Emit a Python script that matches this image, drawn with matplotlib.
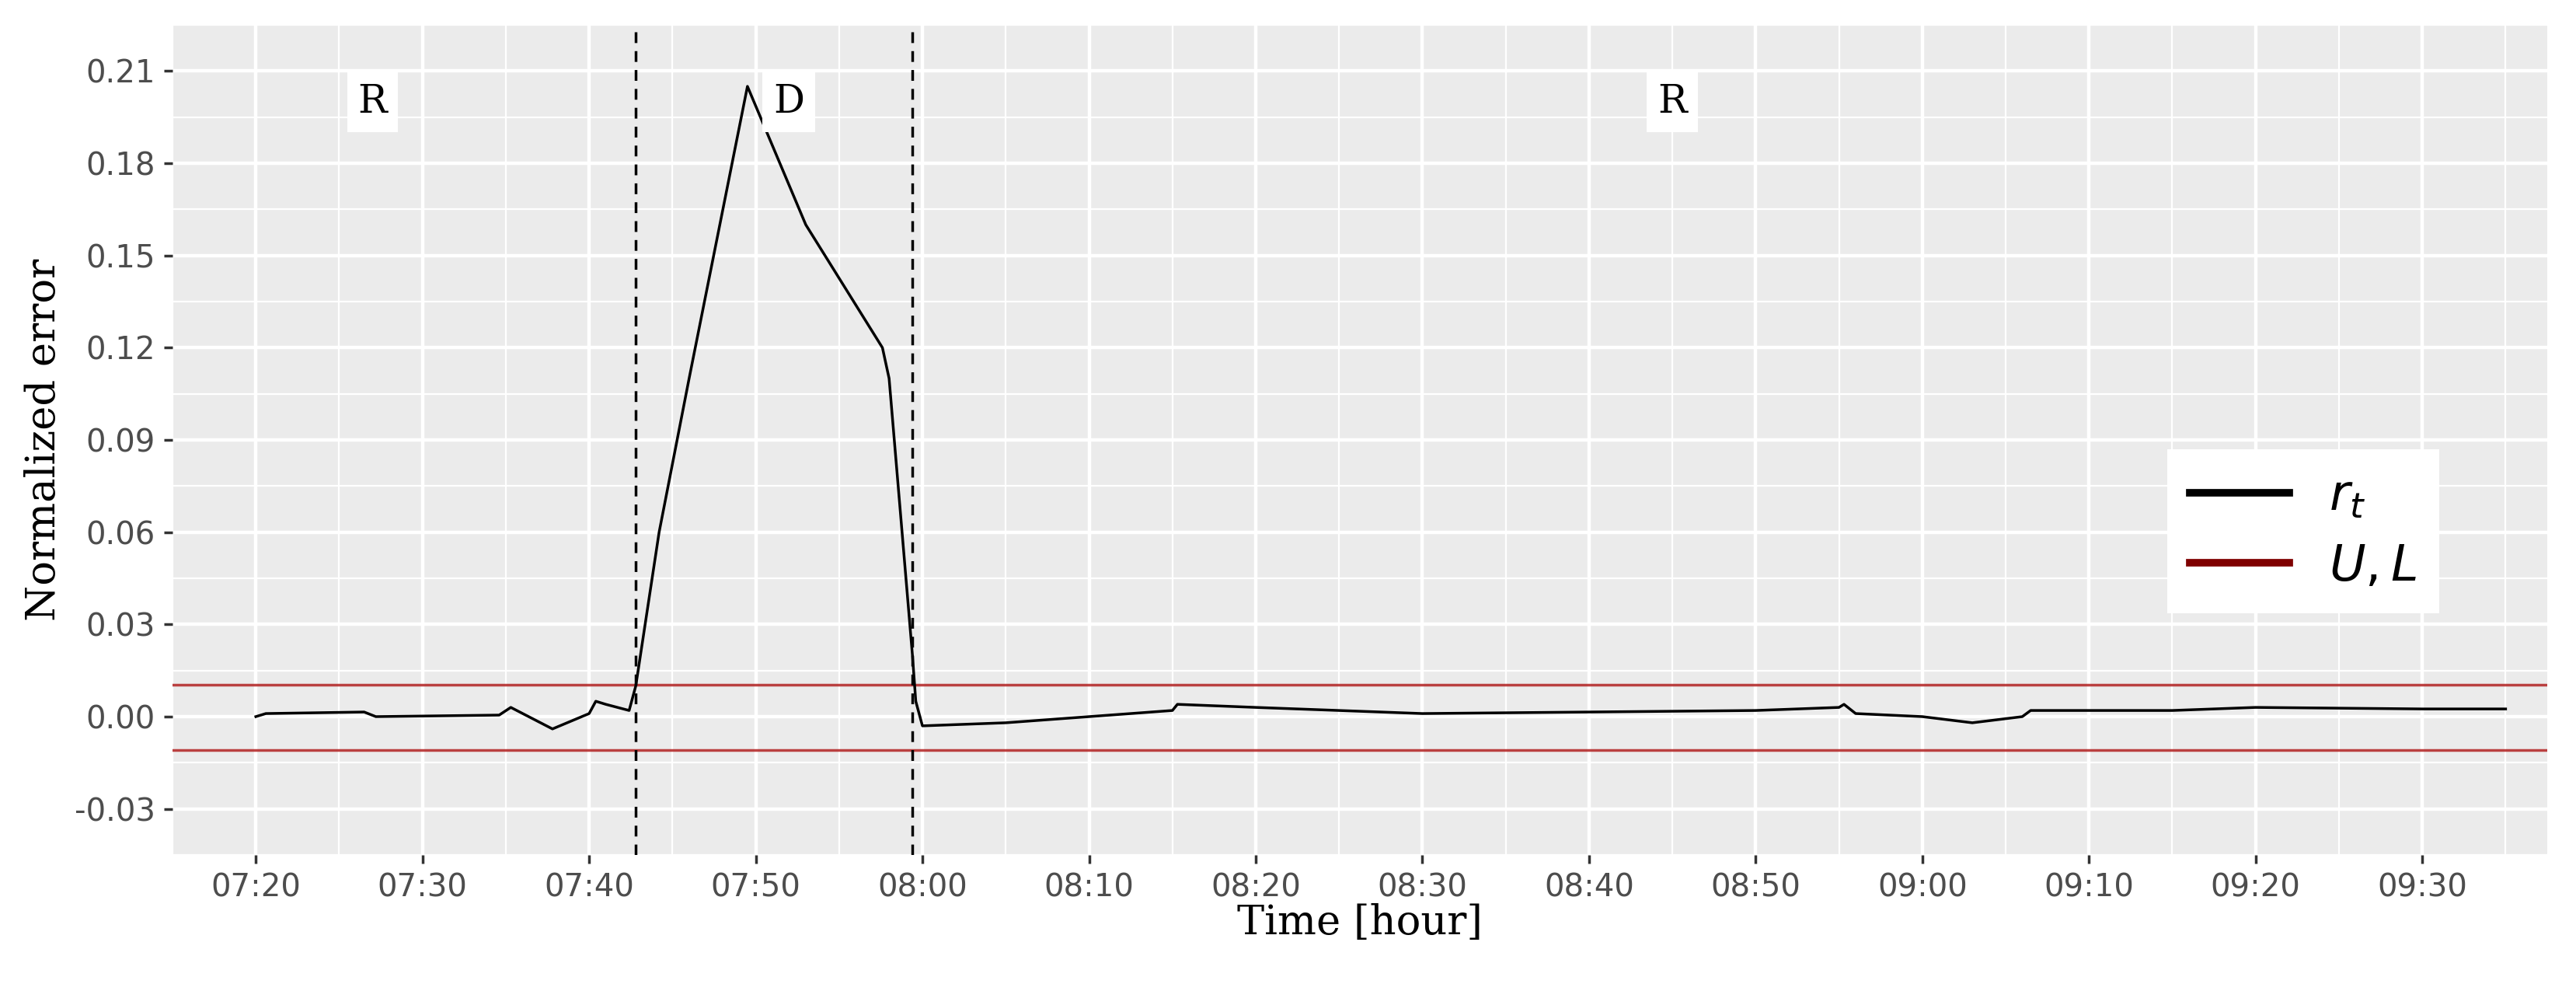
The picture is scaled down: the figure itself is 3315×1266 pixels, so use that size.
import matplotlib
matplotlib.use("Agg")
import matplotlib.pyplot as plt
import numpy as np

# minutes after 07:20
t_min = [0, 0.6, 6.5, 7.2, 14.6, 15.3, 17.8, 20.0, 20.4, 21.0, 22.4, 22.8, 24.2, 26.0, 29.5,
         33.0, 37.6, 38.0, 39.4, 39.6, 40.0, 45.0, 50.0, 55.0, 55.3, 60.0, 65.0, 70.0,
         80.0, 90.0, 95.0, 95.3, 96.0, 100.0, 103.0, 106.0, 106.5, 115.0, 120.0, 130.0, 135.0]
r_vals = [0.000, 0.001, 0.0015, 0.000, 0.0005, 0.003, -0.004, 0.001, 0.005, 0.004, 0.002, 0.010, 0.060, 0.110, 0.205,
          0.160, 0.120, 0.110, 0.020, 0.005, -0.003, -0.002, 0.000, 0.002, 0.004, 0.003, 0.002, 0.001,
          0.0015, 0.002, 0.003, 0.004, 0.001, 0.000, -0.002, 0.000, 0.002, 0.002, 0.003, 0.0025, 0.0025]
upper_limit = 0.0103
lower_limit = -0.0108
phase_lines = [22.8, 39.4]
phase_labels = ["R", "D", "R"]
phase_label_x = [7.0, 32.0, 85.0]
xtick_min = list(range(0, 131, 10))
xtick_labels = ["07:20", "07:30", "07:40", "07:50", "08:00", "08:10", "08:20", "08:30",
                "08:40", "08:50", "09:00", "09:10", "09:20", "09:30"]
yticks = [-0.03, 0.00, 0.03, 0.06, 0.09, 0.12, 0.15, 0.18, 0.21]

fig = plt.figure(figsize=(33.16, 12.66), dpi=100)
ax = fig.add_axes([222/3316, 1 - 1100/1266, (3278-222)/3316, (1100-32)/1266])
ax.set_facecolor("#EBEBEB")
for s in ax.spines.values():
    s.set_visible(False)

ax.set_xlim(-3.4, 137.5)
ax.set_ylim(-0.0417, 0.2242)
ax.set_xticks(xtick_min)
ax.set_xticklabels(xtick_labels)
ax.set_xticks([x + 5 for x in xtick_min[:-1]] + [-5, 135], minor=True)
ax.set_yticks(yticks)
ax.set_yticklabels([f"{v:.2f}" for v in yticks])
ax.set_yticks([v + 0.015 for v in yticks] + [-0.045], minor=True)
ax.grid(which="major", color="white", lw=3.2)
ax.grid(which="minor", color="white", lw=1.6)
ax.set_axisbelow(True)
ax.tick_params(which="major", length=8, width=2.5, color="#333333", labelsize=29,
               labelcolor="#4D4D4D", pad=8)
ax.tick_params(which="minor", length=0)

ax.axhline(upper_limit, color="#B22222", lw=2.5, alpha=0.85)
ax.axhline(lower_limit, color="#B22222", lw=2.5, alpha=0.85)
ax.plot(t_min, r_vals, color="black", lw=2.5)
for x in phase_lines:
    ax.axvline(x, color="black", ls=(0, (4, 3)), lw=2.5)
for lab, x in zip(phase_labels, phase_label_x):
    ax.text(x, 0.2, lab, fontsize=36, family="DejaVu Serif", ha="center", va="center",
            bbox=dict(facecolor="white", edgecolor="none", pad=10))

ax.set_xlabel("Time [hour]", fontsize=38, family="DejaVu Serif", labelpad=0)
ax.set_ylabel("Normalized error", fontsize=38, family="DejaVu Serif", labelpad=10)

from matplotlib.lines import Line2D
handles = [Line2D([], [], color="black", lw=7), Line2D([], [], color="#7F0000", lw=7)]
leg = ax.legend(handles, [r"$r_t$", r"$U, L$"], loc="center right", bbox_to_anchor=(0.965, 0.39),
                fontsize=46, frameon=True, fancybox=False, handlelength=2.0, borderpad=0.45,
                labelspacing=0.45, framealpha=1)
leg.get_frame().set_edgecolor("none")
leg.get_frame().set_facecolor("white")

fig.savefig("out.png", dpi=100)
